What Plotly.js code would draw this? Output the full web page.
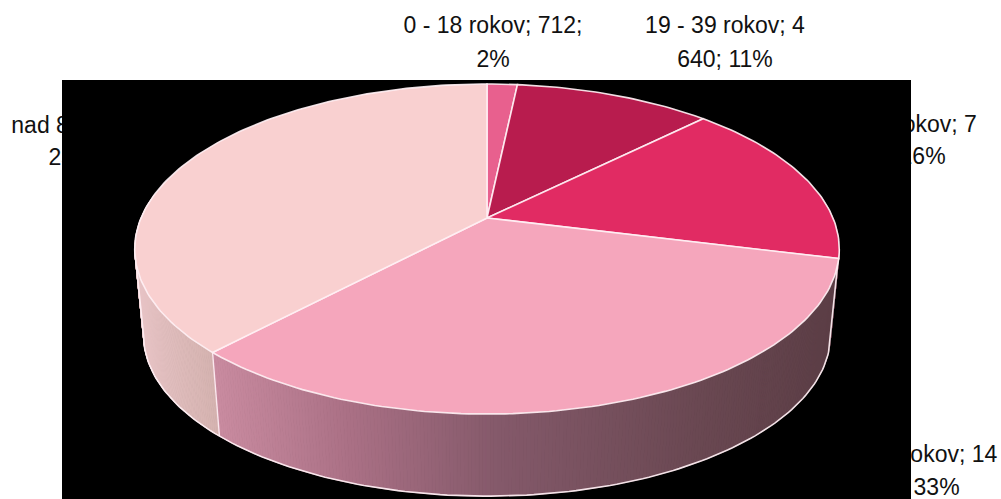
<!DOCTYPE html>
<html>
<head>
<meta charset="utf-8">
<script src="https://cdn.plot.ly/plotly-3.0.1.min.js"></script>
<style>html,body{margin:0;padding:0;background:#fff}#chart{width:1001px;height:499px}</style>
</head>
<body>
<div id="chart"></div>
<script>
// --- data ---
const categories = ["0 - 18 rokov", "19 - 39 rokov", "40 - 59 rokov", "60 - 79 rokov", "nad 80 rokov"];
const values = [712, 4640, 7010, 14150, 16250];
const firstLines = ["0 - 18 rokov; 712;", "19 - 39 rokov; 4", "40 - 59 rokov; 7", "60 - 79 rokov; 14", "nad 80 rokov; 16"];
const secondLines = ["2%", "640; 11%", "010; 16%", "150; 33%", "250; 38%"];
const sliceColors = ["#E8608E", "#B81C4E", "#E12B63", "#F5A6BC", "#F9D0D0"];

// --- styling / layout ---
const labelX = [493, 725, 897, 911, 97];
const labelY1 = [27, 27, 126, 456, 127];
const labelY2 = [61, 61, 158, 489, 159];
const backdrop = {x0: 62, x1: 911, y0: 80, y1: 499};
const cx = 487, cyTop = 218, a = 159.2, b = 346, k = 0.188;
const depth = 87, scaleBottom = 0.975;
const edgeColor = "rgba(255,240,244,0.92)";

function project(frac, bottom) {
  const t = 2 * Math.PI * frac, u = Math.sin(t), v = Math.cos(t), d = 1 + k * v;
  const s = bottom ? scaleBottom : 1;
  return [cx + s * b * u / d, cyTop + (bottom ? depth : 0) - s * a * v / d, v];
}
function lerpStops(stops, x) {
  let i = 0;
  while (i < stops.length - 2 && x > stops[i + 1][0]) i++;
  const p = stops[i], q = stops[i + 1];
  const f = Math.max(0, Math.min(1, (x - p[0]) / (q[0] - p[0])));
  return "rgb(" + [1, 2, 3].map(j => Math.round(p[j] + (q[j] - p[j]) * f)).join(",") + ")";
}
const sideStops = {
  3: [[215, 201, 139, 160], [350, 170, 112, 133], [500, 132, 89, 106], [700, 106, 72, 82], [835, 92, 62, 70]],
  4: [[135, 232, 196, 198], [215, 212, 178, 175]],
  2: [[800, 120, 60, 80], [840, 100, 50, 70]]
};

const total = values.reduce((s, x) => s + x, 0);
const cum = [0];
values.forEach(x => cum.push(cum[cum.length - 1] + x / total));

const traces = [];
const noHover = {hoverinfo: "skip", showlegend: false};

// labels sit under the black panel, as in the reference
traces.push({type: "scatter", mode: "text", x: labelX.concat(labelX), y: labelY1.concat(labelY2),
  text: firstLines.concat(secondLines), textposition: "middle center", cliponaxis: false,
  textfont: {family: "Liberation Sans, Arial, sans-serif", size: 23, color: "#111"}, ...noHover});

// black panel
traces.push({type: "scatter", mode: "lines", fill: "toself", fillcolor: "#000", line: {width: 0},
  x: [backdrop.x0, backdrop.x1, backdrop.x1, backdrop.x0, backdrop.x0],
  y: [backdrop.y0, backdrop.y0, backdrop.y1, backdrop.y1, backdrop.y0], ...noHover});

// side wall, back to front
const quads = [];
const step = 1 / 720;
values.forEach((_, i) => {
  if (!sideStops[i]) return;
  for (let f = cum[i]; f < cum[i + 1] - 1e-9; f += step) {
    const g = Math.min(f + step, cum[i + 1]);
    const mid = project((f + g) / 2, false);
    if (mid[2] > 0.15) continue;
    quads.push({i, f, g, v: mid[2], x: mid[0]});
  }
});
quads.sort((p, q) => q.v - p.v);
quads.forEach(q => {
  const A = project(q.f, false), B = project(q.g, false), C = project(q.g, true), D = project(q.f, true);
  const col = lerpStops(sideStops[q.i], q.x);
  traces.push({type: "scatter", mode: "lines", fill: "toself", fillcolor: col, line: {color: col, width: 1},
    x: [A[0], B[0], C[0], D[0], A[0]], y: [A[1], B[1], C[1], D[1], A[1]], ...noHover});
});

// bottom rim and side edges
function arc(f0, f1, bottom) {
  const xs = [], ys = [], n = Math.max(2, Math.ceil((f1 - f0) * 360));
  for (let j = 0; j <= n; j++) {
    const p = project(f0 + (f1 - f0) * j / n, bottom);
    xs.push(p[0]); ys.push(p[1]);
  }
  return [xs, ys];
}
const fL = 1 - (Math.acos(-k) / (2 * Math.PI));
const fR = Math.acos(-k) / (2 * Math.PI);
const rim = arc(fR, fL, true);
const pR = project(fR, false), pL = project(fL, false);
traces.push({type: "scatter", mode: "lines", line: {color: edgeColor, width: 1.6},
  x: [pR[0]].concat(rim[0], [pL[0]]), y: [pR[1]].concat(rim[1], [pL[1]]), ...noHover});

// vertical divider at the start of the last slice
const e1 = project(cum[4], false), e2 = project(cum[4], true);
traces.push({type: "scatter", mode: "lines", line: {color: edgeColor, width: 1.4},
  x: [e1[0], e2[0]], y: [e1[1], e2[1]], ...noHover});

// top face slices
values.forEach((_, i) => {
  const r = arc(cum[i], cum[i + 1], false);
  traces.push({type: "scatter", mode: "lines", fill: "toself", fillcolor: sliceColors[i],
    line: {color: edgeColor, width: 1.6}, name: categories[i],
    x: [cx].concat(r[0], [cx]), y: [cyTop].concat(r[1], [cyTop]), ...noHover});
});

Plotly.newPlot("chart", traces, {
  width: 1001, height: 499, margin: {l: 0, r: 0, t: 0, b: 0},
  paper_bgcolor: "#fff", plot_bgcolor: "#fff", showlegend: false,
  xaxis: {range: [0, 1001], visible: false, fixedrange: true},
  yaxis: {range: [499, 0], visible: false, fixedrange: true}
}, {displayModeBar: false, staticPlot: true});
</script>
</body>
</html>
